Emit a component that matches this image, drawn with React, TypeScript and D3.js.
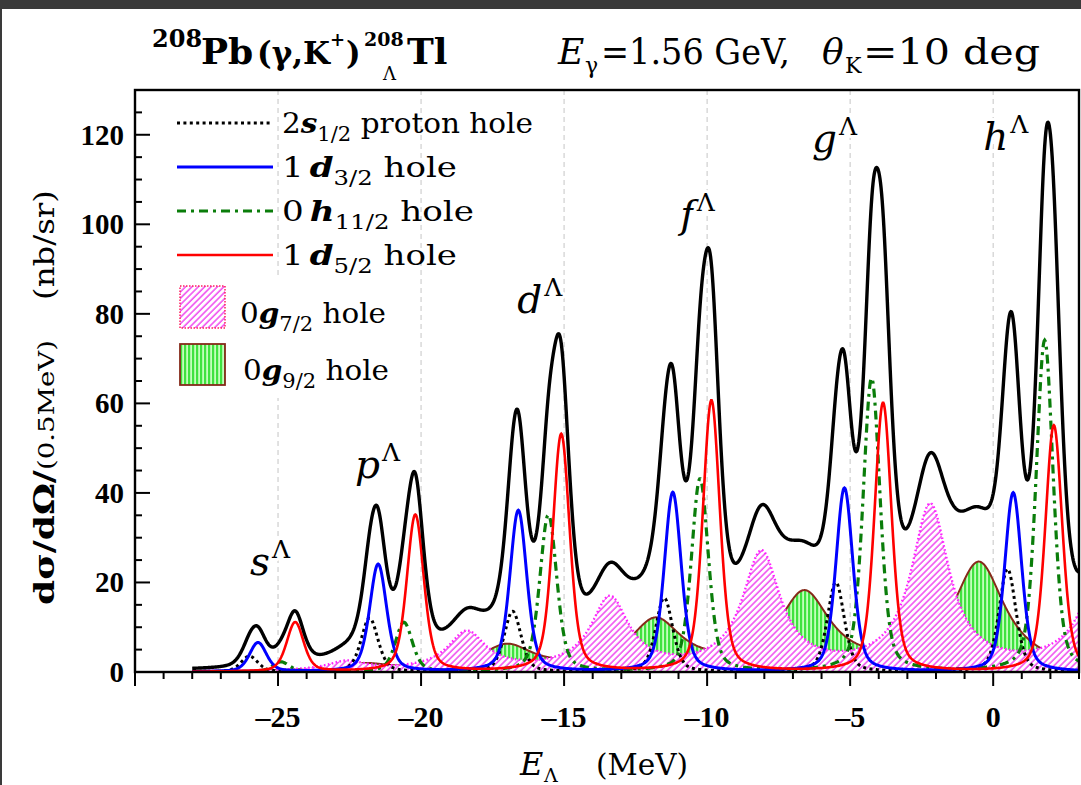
import * as d3 from "d3";

// ---- values ----
// peak centres E_Λ (MeV) and peak heights (nb/sr per 0.5 MeV) of each proton-hole component
const s12Pos = [-26.0, -21.8, -16.8, -11.5, -5.5, 0.5];
const s12Amp = [3.5, 12, 13.5, 16.5, 20, 23];
const d32Pos = [-25.7, -21.5, -16.6, -11.2, -5.2, 0.7];
const d32Amp = [6.5, 24, 36, 40, 41, 40];
const h112Pos = [-24.9, -20.6, -15.55, -10.25, -4.25, 1.8];
const h112Amp = [2.2, 11, 35, 43, 65.5, 74];
const d52Pos = [-24.4, -20.2, -15.1, -9.85, -3.85, 2.12];
const d52Amp = [11, 35, 53, 60.5, 60, 55];
const g72Pos = [-22.6, -18.4, -13.4, -8.1, -2.2, 4.2];
const g72Amp = [2, 8.5, 16, 26, 36.5, 40];
const g92Pos = [-22.0, -17.0, -11.8, -6.6, -0.5];
const g92Amp = [1.5, 5.5, 11, 17, 24];
// peak widths (FWHM, MeV)
const narrowFwhm = 0.7;
const g72Fwhm = 1.6;
const g92Fwhm = 2.2;

const shellNames = ["s", "p", "d", "f", "g", "h"];
const xTicks = [-25, -20, -15, -10, -5, 0];
const yTicks = [0, 20, 40, 60, 80, 100, 120];

const W = 1081, H = 785;
const serif = "'DejaVu Serif', serif";
const tickFont = "'Liberation Serif', 'Times New Roman', serif";

// sum of pseudo-Voigt peaks (eta = Lorentzian fraction)
function peaks(pos: number[], amp: number[], fwhm: number, eta: number) {
  const g = fwhm / 2;
  const k = (4 * Math.LN2) / (fwhm * fwhm);
  return (e: number) =>
    pos.reduce((s, p, i) => {
      const d = e - p;
      return s + amp[i] * (eta / (1 + (d / g) ** 2) + (1 - eta) * Math.exp(-k * d * d));
    }, 0);
}

export default function App() {
  const x = d3.scaleLinear().domain([-30, 3]).range([135, 1079]);
  const y = d3.scaleLinear().domain([0, 130]).range([672, 90]);

  const grid = d3.range(-28, 3.0001, 0.02);
  const fS = peaks(s12Pos, s12Amp, narrowFwhm, 0.4);
  const fD3 = peaks(d32Pos, d32Amp, narrowFwhm, 0.4);
  const fH = peaks(h112Pos, h112Amp, narrowFwhm, 0.4);
  const fD5 = peaks(d52Pos, d52Amp, narrowFwhm, 0.4);
  const fG7 = peaks(g72Pos, g72Amp, g72Fwhm, 1);
  const fG9 = peaks(g92Pos, g92Amp, g92Fwhm, 1);
  const fTot = (e: number) => fS(e) + fD3(e) + fH(e) + fD5(e) + fG7(e) + fG9(e);

  const line = (f: (e: number) => number) =>
    d3.line<number>().x(e => x(e)).y(e => y(f(e)))(grid) || "";
  const area = (f: (e: number) => number) =>
    d3.area<number>().x(e => x(e)).y0(y(0)).y1(e => y(f(e)))(grid) || "";

  // where the shell labels sit (E_Λ, cross-section of the baseline)
  const labelE = [-25.98, -22.31, -16.64, -10.94, -6.33, -0.35];
  const labelV = [21.7, 43.3, 80.2, 99.2, 116.1, 116.6];

  const legendLines = [
    { color: "#000", dash: "3,3.4", w: 3, n: "2", gap: 0, l: "s", sub: "1/2", rest: " proton hole", len: 251 },
    { color: "#0000ff", dash: "", w: 3, n: "1", gap: 5, l: "d", sub: "3/2", rest: " hole", len: 175 },
    { color: "#0a7d0a", dash: "9,5,3,5", w: 3.2, n: "0", gap: 5, l: "h", sub: "11/2", rest: " hole", len: 192 },
    { color: "#ff0000", dash: "", w: 2.6, n: "1", gap: 5, l: "d", sub: "5/2", rest: " hole", len: 175 },
  ];

  const fit = (len: number) => ({ textLength: len, lengthAdjust: "spacingAndGlyphs" as const });

  return (
    <svg width={W} height={H} style={{ position: "absolute", left: 0, top: 0, background: "#fff" }}
      fontFamily={serif}>
      <defs>
        <clipPath id="plotClip"><rect x={135} y={90} width={944} height={582} /></clipPath>
        <pattern id="hatchMag" width="4.5" height="4.5" patternUnits="userSpaceOnUse" patternTransform="rotate(45)">
          <rect width="4.5" height="4.5" fill="#fff" />
          <line x1="1" y1="0" x2="1" y2="4.5" stroke="#f048f0" strokeWidth="1.5" />
        </pattern>
        <pattern id="hatchGreen" width="4" height="4" patternUnits="userSpaceOnUse">
          <rect width="4" height="4" fill="#c4ffbc" />
          <rect x="0" width="2.2" height="4" fill="#3fe23f" />
        </pattern>
      </defs>

      <rect x={0} y={0} width={W} height={H} fill="#fff" />
      <rect x={0} y={0} width={W} height={9} fill="#3a3a3a" />
      <rect x={0} y={0} width={2} height={H} fill="#3a3a3a" />

      {/* dashed guide lines */}
      {xTicks.map(t => (
        <line key={t} x1={x(t)} x2={x(t)} y1={90} y2={672} stroke="#cfcfcf" strokeWidth={1.2} strokeDasharray="5,4" />
      ))}

      <g clipPath="url(#plotClip)">
        <path d={area(fG9)} fill="url(#hatchGreen)" />
        <path d={line(fG9)} fill="none" stroke="#862a1a" strokeWidth={2} />
        <path d={area(fG7)} fill="url(#hatchMag)" />
        <path d={line(fG7)} fill="none" stroke="#ff20ff" strokeWidth={2.4} strokeDasharray="1.6,2.4" />
        <path d={line(fS)} fill="none" stroke="#000" strokeWidth={3} strokeDasharray="3,3.4" />
        <path d={line(fH)} fill="none" stroke="#0a7d0a" strokeWidth={3.2} strokeDasharray="9,5,3,5" />
        <path d={line(fD3)} fill="none" stroke="#0000ff" strokeWidth={3} />
        <path d={line(fD5)} fill="none" stroke="#ff0000" strokeWidth={2.6} />
        <path d={line(fTot)} fill="none" stroke="#000" strokeWidth={3.4} strokeLinejoin="round" />
      </g>

      {/* frame and ticks */}
      <rect x={135} y={90} width={944} height={582} fill="none" stroke="#000" strokeWidth={2.4} />
      {d3.range(-30, 3.5, 1).map(t => (
        <line key={"xt" + t} x1={x(t)} x2={x(t)} y1={672} y2={t % 5 === 0 ? 686 : 679} stroke="#000" strokeWidth={2} />
      ))}
      {d3.range(0, 130, 5).map(v => (
        <line key={"yt" + v} x1={135} x2={v % 20 === 0 ? 150 : 142} y1={y(v)} y2={y(v)} stroke="#000" strokeWidth={2} />
      ))}
      {xTicks.map(t => (
        <text key={"xl" + t} x={x(t)} y={727} textAnchor="middle" fontSize={30} fontWeight="bold" fontFamily={tickFont}>
          {t < 0 ? "\u2013" + Math.abs(t) : t}
        </text>
      ))}
      {yTicks.map(v => (
        <text key={"yl" + v} x={124} y={y(v) + 10} textAnchor="end" fontSize={29} fontWeight="bold" fontFamily={tickFont}>{v}</text>
      ))}

      {/* shell labels */}
      {shellNames.map((s, i) => (
        <text key={s} x={x(labelE[i])} y={y(labelV[i])} fontSize={39} style={{ paintOrder: "stroke" }}
          stroke="#fff" strokeWidth={6} strokeLinejoin="round">
          <tspan fontStyle="italic">{s}</tspan>
          <tspan fontSize={25} dy={-17} dx={2}>{"\u039B"}</tspan>
        </text>
      ))}

      {/* legend */}
      <rect x={172} y={278} width={228} height={120} fill="#fff" />
      {legendLines.map((d, i) => {
        const ly = 123 + i * 44;
        return (
          <g key={i}>
            <line x1={177} x2={273} y1={ly} y2={ly} stroke={d.color} strokeWidth={d.w} strokeDasharray={d.dash} />
            <text x={282} y={ly + 10} fontSize={28} {...fit(d.len)}>
              {d.n}
              <tspan dx={d.gap} fontWeight="bold" fontStyle="italic">{d.l}</tspan>
              <tspan fontSize={20} dy={8}>{d.sub}</tspan>
              <tspan dy={-8}>{d.rest}</tspan>
            </text>
          </g>
        );
      })}
      <rect x={180} y={286} width={45} height={42} fill="url(#hatchMag)" stroke="#ff2060" strokeWidth={1.5} strokeDasharray="1.5,1.5" />
      <text x={240} y={323} fontSize={28} {...fit(146)}>
        0<tspan fontWeight="bold" fontStyle="italic">g</tspan>
        <tspan fontSize={20} dy={8}>7/2</tspan><tspan dy={-8}> hole</tspan>
      </text>
      <rect x={180} y={344} width={45} height={41} fill="url(#hatchGreen)" stroke="#862a1a" strokeWidth={1.8} />
      <text x={243} y={380} fontSize={28} {...fit(146)}>
        0<tspan fontWeight="bold" fontStyle="italic">g</tspan>
        <tspan fontSize={20} dy={8}>9/2</tspan><tspan dy={-8}> hole</tspan>
      </text>

      {/* title */}
      <text fontWeight="bold" fontSize={34}>
        <tspan x={152} y={47} fontSize={24}>208</tspan>
        <tspan x={201} y={64} fontSize={36}>Pb</tspan>
        <tspan x={257} y={64} fontSize={31}>(γ,K</tspan>
        <tspan x={330} y={46} fontSize={18}>+</tspan>
        <tspan x={346} y={64} fontSize={31}>)</tspan>
      </text>
      <text fontWeight="bold">
        <tspan x={364} y={46} fontSize={19}>208</tspan>
        <tspan x={383} y={80} fontSize={18} fontWeight="normal">{"\u039B"}</tspan>
        <tspan x={407} y={64} fontSize={36}>Tl</tspan>
      </text>
      <text x={558} y={64} fontSize={36} fontStyle="italic">E</text>
      <text x={585} y={73} fontSize={22}>γ</text>
      <text x={601} y={64} fontSize={36} {...fit(189)}>=1.56 GeV,</text>
      <text x={822} y={64} fontSize={36} fontStyle="italic">θ</text>
      <text x={845} y={73} fontSize={22}>K</text>
      <text x={863} y={64} fontSize={36} {...fit(177)}>=10 deg</text>

      {/* axis titles */}
      <g transform="translate(54,0) rotate(-90)">
        <text x={-605} y={0} fontSize={27} fontWeight="bold" {...fit(135)}>dσ/dΩ/</text>
        <text x={-470} y={0} fontSize={23} {...fit(130)}>(0.5MeV)</text>
        <text x={-300} y={0} fontSize={27} {...fit(110)}>(nb/sr)</text>
      </g>
      <text x={520} y={775} fontSize={32} fontStyle="italic">E</text>
      <text x={544} y={782} fontSize={19}>{"\u039B"}</text>
      <text x={596} y={775} fontSize={30} {...fit(92)}>(MeV)</text>
    </svg>
  );
}
